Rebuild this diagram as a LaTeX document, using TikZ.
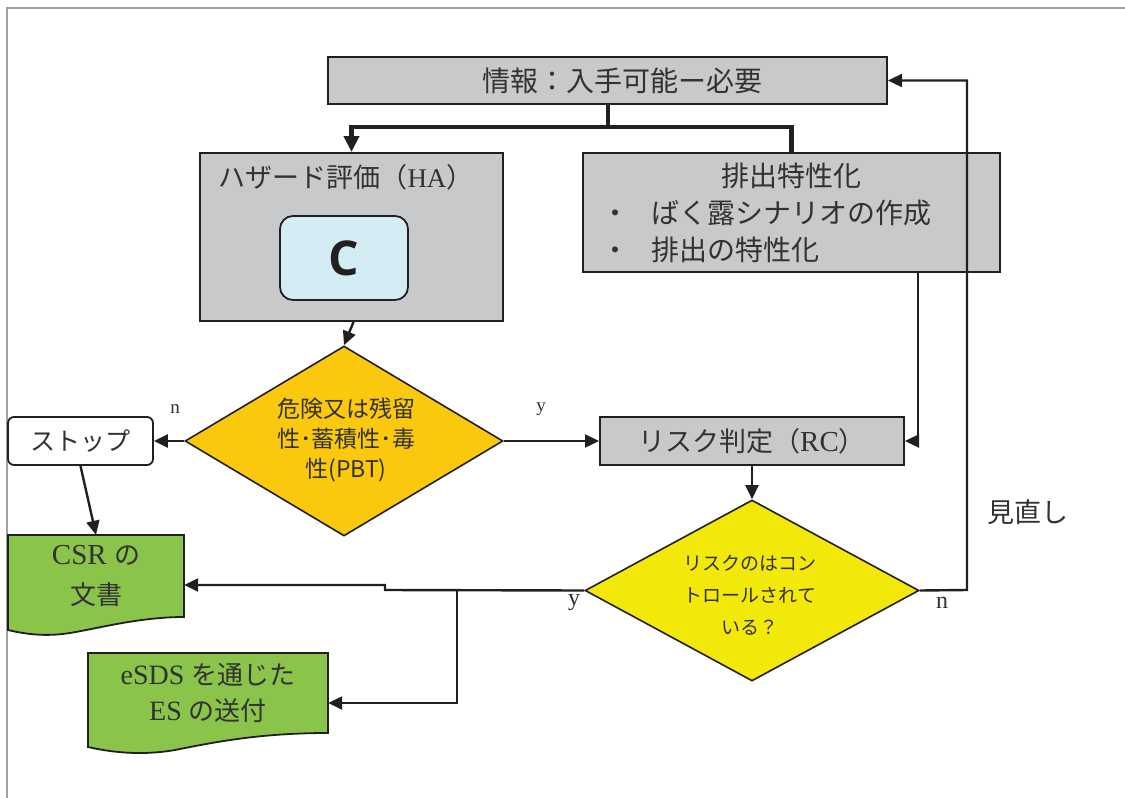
\documentclass[tikz,border=0pt]{standalone}
\usepackage{fontspec}
\setmainfont{Liberation Serif}
\newfontfamily\cjk{Noto Sans CJK JP}
\newfontfamily\cfont{Open Sans}
\usetikzlibrary{shapes.geometric,arrows.meta}
\definecolor{boxgray}{RGB}{200,201,203}
\definecolor{linec}{RGB}{35,31,32}
\definecolor{txt}{RGB}{50,50,50}
\definecolor{dorange}{RGB}{250,200,12}
\definecolor{dyellow}{RGB}{242,232,10}
\definecolor{dgreen}{RGB}{139,196,74}
\definecolor{lblue}{RGB}{212,236,243}
\definecolor{frame}{RGB}{160,160,160}
\begin{document}
\begin{tikzpicture}[x=1pt,y=1pt,
  graybox/.style={rectangle,draw=linec,line width=2pt,fill=boxgray,inner sep=0},
  ghost/.style={rectangle,inner sep=0},
  lbl/.style={text=txt,inner sep=0,align=center},
  arr/.style={draw=linec,line width=2.4pt,-{Triangle[length=14pt,width=13pt]}},
  thickarr/.style={draw=linec,line width=4.5pt,-{Triangle[length=16pt,width=15pt]}},
  diam/.style={diamond,draw=linec,line width=1.6pt,inner sep=0}]
\useasboundingbox[fill=white] (0,0) rectangle (1125,-798);
\draw[frame,line width=2pt] (1125,-8) -- (7,-8) -- (7,-798);

% boxes
\node[graybox,minimum width=559,minimum height=47] (top) at (607.5,-80.5) {};
\node[lbl,font=\cjk\fontsize{28}{30}\selectfont] (toptxt) at (622,-80.5) {情報：入手可能ー必要};

\node[graybox,minimum width=303,minimum height=168] (ha) at (351.5,-237) {};
\node[lbl,font=\fontsize{27}{30}\selectfont] (hatxt) at (346,-177) {{\cjk ハザード評価（}HA{\cjk ）}};
\node[rectangle,rounded corners=13pt,draw=linec,line width=1.8pt,fill=lblue,minimum width=128,minimum height=84,inner sep=0,font=\cfont\bfseries\fontsize{48}{50}\selectfont,text=linec] (cbox) at (344,-258) {C};

\node[graybox,minimum width=417,minimum height=119] (exp) at (791.5,-212.5) {};
\node[lbl,font=\cjk\fontsize{28}{30}\selectfont] (exp1) at (791,-176) {排出特性化};
\node[lbl,anchor=west,font=\cjk\fontsize{28}{30}\selectfont] (exp2) at (601,-213) {・\hspace{22pt}ばく露シナリオの作成};
\node[lbl,anchor=west,font=\cjk\fontsize{28}{30}\selectfont] (exp3) at (601,-250) {・\hspace{22pt}排出の特性化};

\node[diam,fill=dorange,minimum width=318,minimum height=190] (dia1) at (344,-441) {};
\node[lbl,font=\cjk\fontsize{23}{30}\selectfont] (dia1txt) at (346,-440) {危険又は残留\\性･蓄積性･毒\\性(PBT)};

\node[rectangle,rounded corners=6pt,draw=linec,line width=1.8pt,fill=white,minimum width=145,minimum height=48,inner sep=0,text=txt,font=\cjk\fontsize{25}{30}\selectfont] (stop) at (80.5,-441) {ストップ};

\node[graybox,minimum width=304,minimum height=48,text=txt,font=\fontsize{29}{30}\selectfont] (rc) at (752,-441) {{\cjk\fontsize{27}{30}\selectfont リスク判定（}RC{\cjk\fontsize{27}{30}\selectfont ）}};

\node[diam,fill=dyellow,minimum width=334,minimum height=181] (dia2) at (752,-590.5) {};
\node[lbl,font=\cjk\fontsize{19}{32}\selectfont] (dia2txt) at (750,-595) {リスクのはコン\\トロールされて\\いる？};

% documents
\filldraw[fill=dgreen,draw=linec,line width=1.8pt] (8,-535) -- (184,-535) -- (184,-617)
  .. controls (140,-617) and (100,-628) .. (70,-633)
  .. controls (45,-637) and (25,-634) .. (8,-630) -- cycle;
\node[ghost,minimum width=176,minimum height=82,text=txt,align=center,font=\fontsize{29}{40}\selectfont] (csr) at (96,-576) {CSR {\cjk\fontsize{26}{30}\selectfont の}\\{\cjk\fontsize{26}{30}\selectfont 文書}};

\filldraw[fill=dgreen,draw=linec,line width=1.8pt] (88,-653) -- (328,-653) -- (328,-733)
  .. controls (260,-733) and (215,-742) .. (175,-750)
  .. controls (140,-756) and (110,-752) .. (88,-747) -- cycle;
\node[ghost,minimum width=240,minimum height=80,text=txt,align=center,font=\fontsize{28}{36}\selectfont] (esds) at (208,-693) {eSDS {\cjk\fontsize{26}{30}\selectfont を通じた}\\ES {\cjk\fontsize{26}{30}\selectfont の送付}};

% connectors
\coordinate (t1) at (608,-127);
\draw[draw=linec,line width=4.5pt] (top.south -| t1) -- (t1);
\draw[thickarr] (t1) -| (ha.north);
\draw[draw=linec,line width=4.5pt] (t1) -| (exp.north);

\draw[arr] ([xshift=2pt]ha.south) -- (dia1.north);
\draw[arr] (dia1.west) -- (stop.east);
\draw[arr] (dia1.east) -- (rc.west);
\draw[arr] (stop.south) -- (csr.north);
\draw[arr] ([xshift=126.5pt]exp.south) |- (rc.east);
\draw[arr] (rc.south) -- (dia2.north);

\coordinate (r1) at (967,-590);
\draw[arr] (dia2.east) -- (r1) |- (top.east);

\coordinate (j1) at (385,-590);
\coordinate (j2) at (385,-585);
\coordinate (j3) at (457,-590);
\coordinate (j4) at (457,-703);
\draw[arr] (dia2.west) -- (j1) -- (j2) -- (csr.east |- j2);
\draw[arr] (j3) -- (j4) -- (esds.east |- j4);

% labels
\node[lbl,font=\fontsize{19}{22}\selectfont] (ln1) at (175,-409) {n};
\node[lbl,font=\fontsize{19}{22}\selectfont] (ly1) at (541,-409) {y};
\node[lbl,font=\fontsize{24}{26}\selectfont] (ly2) at (574,-603) {y};
\node[lbl,font=\fontsize{24}{26}\selectfont] (ln2) at (942,-603) {n};
\node[lbl,font=\cjk\fontsize{27}{30}\selectfont] (rev) at (1028,-512) {見直し};
\end{tikzpicture}
\end{document}
